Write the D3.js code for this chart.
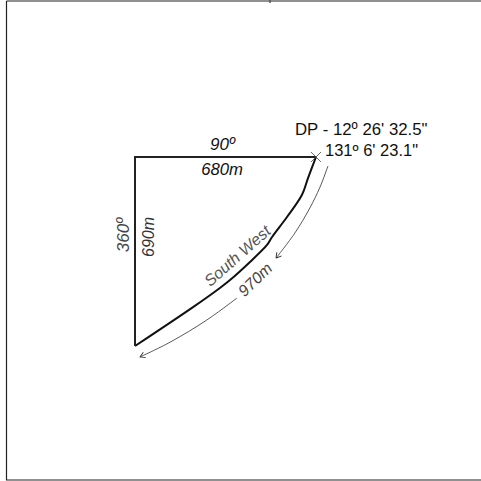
<!DOCTYPE html>
<html><head><meta charset="utf-8">
<script src="https://cdn.jsdelivr.net/npm/d3@7"></script>
<style>html,body{margin:0;padding:0;background:#fff}svg{display:block}text{font-family:"Liberation Sans",Arial,sans-serif}</style>
</head><body><svg id="c" width="481" height="481"></svg>
<script>
// survey values in metres: east / south of the north-west corner
const curveEast = [680, 650, 627, 571, 515, 496, 432, 357, 319, 218, 0];
const curveSouth = [0, 77, 139, 219, 292, 321, 383, 449, 478, 548, 690];
const straightEast = [0, 0, 680];
const straightSouth = [690, 0, 0];
const arrowUpperEast = [725, 695, 657, 601, 530];
const arrowUpperSouth = [33, 110, 186, 277, 369];
const arrowLowerEast = [383, 270, 132, 19];
const arrowLowerSouth = [515, 595, 676, 730];
const labels = ["DP - 12º 26' 32.5\"", "131º 6' 23.1\"", "90º", "680m", "360º", "690m", "South West", "970m"];

const x = d3.scaleLinear().domain([0, 680]).range([135, 316]);
const y = d3.scaleLinear().domain([0, 690]).range([157, 346]);
const svg = d3.select("#c");

svg.append("defs").append("marker").attr("id","ah").attr("markerUnits","userSpaceOnUse")
  .attr("viewBox","-6 -4 7 8").attr("refX",0).attr("refY",0).attr("markerWidth",7).attr("markerHeight",8)
  .attr("orient","auto")
  .append("path").attr("d","M-5,-3L0,0L-5,3").attr("fill","none").attr("stroke","#333").attr("stroke-width",0.9);

svg.append("path").attr("d","M6.5,1H481M6.5,1V480H481").attr("fill","none").attr("stroke","#222").attr("stroke-width",1.2);
svg.append("line").attr("x1",270).attr("x2",270).attr("y1",0).attr("y2",3).attr("stroke","#555").attr("stroke-width",1.5);

const line = (xs, ys, curve) => d3.line().x((d,i)=>x(xs[i])).y((d,i)=>y(ys[i])).curve(curve)(xs);

svg.append("path").attr("d", line(curveEast, curveSouth, d3.curveCatmullRom)).attr("fill","none").attr("stroke","#111").attr("stroke-width",2);
svg.append("path").attr("d", line(straightEast, straightSouth, d3.curveLinear)).attr("fill","none").attr("stroke","#222").attr("stroke-width",2);
svg.append("path").attr("d", line(arrowUpperEast, arrowUpperSouth, d3.curveCatmullRom)).attr("fill","none").attr("stroke","#444").attr("stroke-width",0.9).attr("marker-end","url(#ah)");
svg.append("path").attr("d", line(arrowLowerEast, arrowLowerSouth, d3.curveCatmullRom)).attr("fill","none").attr("stroke","#444").attr("stroke-width",0.9).attr("marker-end","url(#ah)");

// DP cross
const cx = x(680), cy = y(0);
svg.append("path").attr("d",`M${cx-5},${cy-5}L${cx+5},${cy+5}M${cx-5},${cy+5}L${cx+5},${cy-5}`).attr("stroke","#444").attr("stroke-width",0.8);

const put = (t, px, py, opt={}) => svg.append("text").text(t)
  .attr("transform",`translate(${px},${py}) rotate(${opt.r||0})`)
  .attr("text-anchor", opt.a||"start").attr("font-size",opt.s||14)
  .attr("font-style",opt.i?"italic":"normal").attr("fill",opt.c||"#111");

put(labels[0], 295, 135, {s:16.8});
put(labels[1], 325, 155.5, {s:16.5});
put(labels[2], 222.5, 150, {a:"middle", i:1, s:17});
put(labels[3], 222, 174.5, {a:"middle", i:1, s:16.7});
put(labels[4], 129, 235, {a:"middle", r:-90, i:1, s:17, c:"#444"});
put(labels[5], 154, 237, {a:"middle", r:-90, i:1, s:16, c:"#333"});
put(labels[6], 241, 260, {a:"middle", r:-41.6, i:1, s:16, c:"#555"});
put(labels[7], 259, 283.5, {a:"middle", r:-44, s:16, i:1, c:"#444"});
</script></body></html>
